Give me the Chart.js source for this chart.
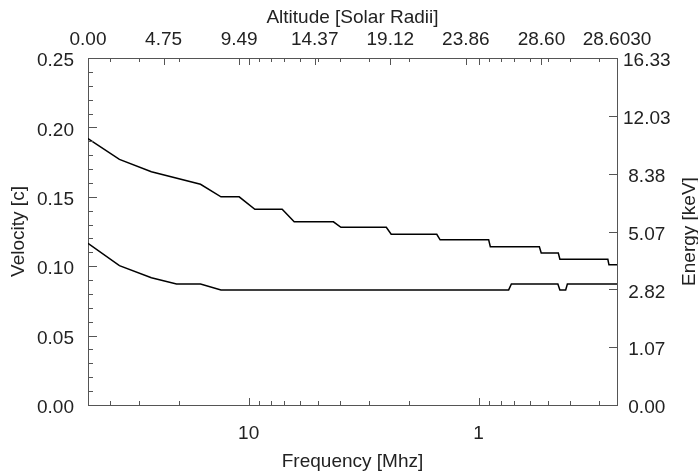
<!DOCTYPE html>
<html>
<head>
<meta charset="utf-8">
<script src="https://cdn.jsdelivr.net/npm/chart.js@4.4.1/dist/chart.umd.min.js"></script>
<style>
  html, body { margin: 0; padding: 0; background: #fff; }
  #wrap { width: 698px; height: 475px; }
</style>
</head>
<body>
<div id="wrap"><canvas id="myChart" width="698" height="475"></canvas></div>
<script>
// values: frequency in MHz, velocity in units of c
var upperFreq = [50, 36.5, 26.5, 16.2, 13.2, 11.0, 9.4, 7.15, 6.34, 4.28, 3.97, 2.52, 2.40, 1.52, 1.47, 0.904, 0.889, 0.544, 0.534, 0.450, 0.443, 0.274, 0.271, 0.25]
var upperVel  = [0.192, 0.177, 0.168, 0.159, 0.150, 0.150, 0.141, 0.141, 0.132, 0.132, 0.128, 0.128, 0.123, 0.123, 0.119, 0.119, 0.114, 0.114, 0.1095, 0.1095, 0.105, 0.105, 0.101, 0.101]
var lowerFreq = [50, 36.5, 26.5, 20.6, 16.2, 13.2, 0.740, 0.720, 0.452, 0.443, 0.418, 0.411, 0.25]
var lowerVel  = [0.1165, 0.1004, 0.0917, 0.0872, 0.0872, 0.0829, 0.0829, 0.0872, 0.0872, 0.0829, 0.0829, 0.0872, 0.0872]

// axis labels
var freqTicks = [10, 1]
var altitudeLabels = ["0.00", "4.75", "9.49", "14.37", "19.12", "23.86", "28.60", "28.6030"]
var energyLabels = ["0.00", "1.07", "2.82", "5.07", "8.38", "12.03", "16.33"]

var textColor = "#222"
var frameColor = "#555"
var fontFamily = "'Liberation Sans', Arial, Helvetica, sans-serif"
var font = { family: fontFamily, size: 19 }

Chart.defaults.font.family = fontFamily
Chart.defaults.font.size = 19
Chart.defaults.color = textColor

function toPoints(xs, ys) {
  return xs.map(function (x, i) { return { x: x, y: ys[i] } })
}

// inward tick marks (IDL style) and the right-hand title
var frameTicks = {
  id: "frameTicks",
  afterDraw: function (chart) {
    var ctx = chart.ctx
    var a = chart.chartArea
    var sx = chart.scales.x, sx2 = chart.scales.x2, sy = chart.scales.y, sy2 = chart.scales.y2
    ctx.save()
    ctx.strokeStyle = frameColor
    ctx.lineWidth = 1
    ctx.beginPath()
    var decades = [0.1, 1, 10]
    decades.forEach(function (dec) {
      for (var m = 1; m <= 9; m++) {
        var v = m * dec
        if (v < 0.2499 || v > 50.001) continue
        var px = Math.round(sx.getPixelForValue(v)) + 0.5
        var len = m === 1 ? 7 : 4
        ctx.moveTo(px, a.bottom); ctx.lineTo(px, a.bottom - len)
        ctx.moveTo(px, a.top); ctx.lineTo(px, a.top + len)
      }
    })
    for (var i = 0; i < altitudeLabels.length; i++) {
      var px2 = Math.round(sx2.getPixelForValue(i)) + 0.5
      ctx.moveTo(px2, a.top); ctx.lineTo(px2, a.top + 7)
    }
    for (var k = 0; k <= 25; k++) {
      var py = Math.round(sy.getPixelForValue(k / 100)) + 0.5
      var l = k % 5 === 0 ? 9 : 5
      ctx.moveTo(a.left, py); ctx.lineTo(a.left + l, py)
    }
    for (var j = 0; j < energyLabels.length; j++) {
      var py2 = Math.round(sy2.getPixelForValue(j)) + 0.5
      ctx.moveTo(a.right, py2); ctx.lineTo(a.right - 8, py2)
    }
    ctx.stroke()

    ctx.fillStyle = textColor
    ctx.font = "19px " + fontFamily
    ctx.textAlign = "center"
    ctx.textBaseline = "middle"
    ctx.translate(690, (a.top + a.bottom) / 2)
    ctx.rotate(-Math.PI / 2)
    ctx.fillText("Energy [keV]", 0, 0)
    ctx.restore()
  }
}

var noGrid = { display: false, drawTicks: false }

var myChart = document.getElementById("myChart").getContext("2d")
var chart = new Chart(myChart, {
  type: "line",
  data: {
    datasets: [
      {
        label: "upper",
        data: toPoints(upperFreq, upperVel),
        borderColor: "#000",
        borderWidth: 1.5,
        pointRadius: 0,
        tension: 0,
        xAxisID: "x",
        yAxisID: "y"
      },
      {
        label: "lower",
        data: toPoints(lowerFreq, lowerVel),
        borderColor: "#000",
        borderWidth: 1.5,
        pointRadius: 0,
        tension: 0,
        xAxisID: "x",
        yAxisID: "y"
      }
    ]
  },
  options: {
    responsive: false,
    animation: false,
    devicePixelRatio: 1,
    layout: { padding: 0 },
    plugins: { legend: { display: false }, tooltip: { enabled: false } },
    scales: {
      x: {
        type: "logarithmic",
        position: "bottom",
        reverse: true,
        min: 0.25,
        max: 50,
        afterBuildTicks: function (s) { s.ticks = freqTicks.map(function (v) { return { value: v } }) },
        ticks: { autoSkip: false, maxRotation: 0, padding: 17, color: textColor, font: font,
          callback: function (v) { return String(v) } },
        grid: noGrid,
        border: { display: true, color: frameColor, width: 1 },
        title: { display: true, text: "Frequency [Mhz]", color: textColor, font: font, padding: { top: 0, bottom: 2 } },
        afterFit: function (s) { s.height = 70 }
      },
      x2: {
        type: "linear",
        position: "top",
        min: 0,
        max: altitudeLabels.length - 1,
        afterBuildTicks: function (s) { s.ticks = altitudeLabels.map(function (t, i) { return { value: i } }) },
        ticks: { autoSkip: false, maxRotation: 0, padding: 7, color: textColor, font: font,
          callback: function (v, i) { return altitudeLabels[i] } },
        grid: noGrid,
        border: { display: true, color: frameColor, width: 1 },
        title: { display: true, text: "Altitude [Solar Radii]", color: textColor, font: font, padding: { top: 6, bottom: 0 } },
        afterFit: function (s) { s.height = 58 }
      },
      y: {
        position: "left",
        min: 0,
        max: 0.25,
        ticks: { stepSize: 0.05, padding: 14, labelOffset: 3, color: textColor, font: font,
          callback: function (v) { return v.toFixed(2) } },
        grid: noGrid,
        border: { display: true, color: frameColor, width: 1 },
        title: { display: true, text: "Velocity [c]", color: textColor, font: font, padding: { top: 7, bottom: 0 } },
        afterFit: function (s) { s.width = 88 }
      },
      y2: {
        position: "right",
        min: 0,
        max: energyLabels.length - 1,
        afterBuildTicks: function (s) { s.ticks = energyLabels.map(function (t, i) { return { value: i } }) },
        ticks: { crossAlign: "center", padding: 6, labelOffset: 3, color: textColor, font: font,
          callback: function (v, i) { return energyLabels[i] } },
        grid: noGrid,
        border: { display: true, color: frameColor, width: 1 },
        afterFit: function (s) { s.width = 81 }
      }
    }
  },
  plugins: [frameTicks]
})
</script>
</body>
</html>
